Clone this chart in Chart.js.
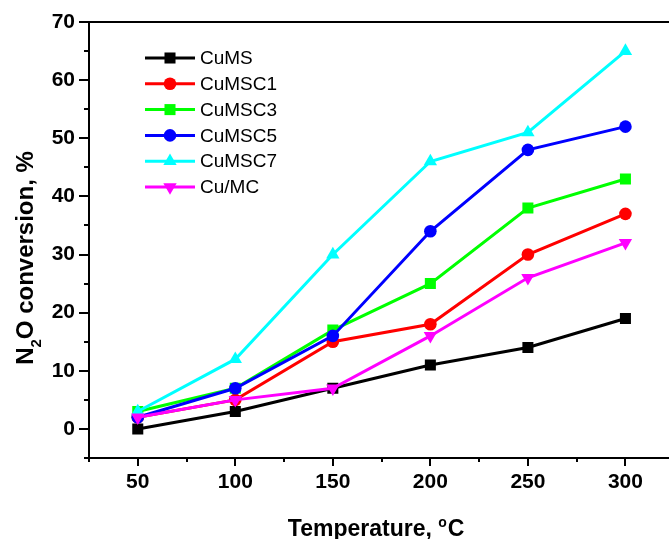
<!DOCTYPE html>
<html>
<head>
<meta charset="utf-8">
<title>N2O conversion vs temperature</title>
<script src="https://cdn.jsdelivr.net/npm/chart.js@4/dist/chart.umd.min.js"></script>
<style>
  html, body { margin: 0; padding: 0; overflow: hidden; background: #ffffff; }
  canvas { display: block; }
</style>
</head>
<body>
<canvas id="chart" width="682" height="539" style="width:682px;height:539px"></canvas>
<script>
// Reaction temperatures (°C)
const temperatures = [50, 100, 150, 200, 250, 300];

// N2O conversion (%) for each catalyst
const cuMS   = [0, 3, 7, 11, 14, 19];
const cuMSC1 = [2, 5, 15, 18, 30, 37];
const cuMSC3 = [3, 7, 17, 25, 38, 43];
const cuMSC5 = [2, 7, 16, 34, 48, 52];
const cuMSC7 = [3, 12, 30, 46, 51, 65];
const cuMC   = [2, 5, 7, 16, 26, 32];

const seriesNames = ['CuMS', 'CuMSC1', 'CuMSC3', 'CuMSC5', 'CuMSC7', 'Cu/MC'];

// Labelled (major) tick values
const xTickValues = [50, 100, 150, 200, 250, 300];
const yTickValues = [0, 10, 20, 30, 40, 50, 60, 70];

const FONT = "'Liberation Sans', Arial, sans-serif";

const seriesStyles = [
  { color: '#000000', pointStyle: 'rect',     radius: 7.8, rotation: 0 },
  { color: '#ff0000', pointStyle: 'circle',   radius: 6.3, rotation: 0 },
  { color: '#00ff00', pointStyle: 'rect',     radius: 7.8, rotation: 0 },
  { color: '#0000ff', pointStyle: 'circle',   radius: 6.3, rotation: 0 },
  { color: '#00ffff', pointStyle: 'triangle', radius: 7.7, rotation: 0 },
  { color: '#ff00ff', pointStyle: 'triangle', radius: 7.7, rotation: 180 }
];

const seriesValues = [cuMS, cuMSC1, cuMSC3, cuMSC5, cuMSC7, cuMC];

const datasets = seriesValues.map((vals, i) => {
  const s = seriesStyles[i];
  return {
    label: seriesNames[i],
    data: temperatures.map((t, k) => ({ x: t, y: vals[k] })),
    borderColor: s.color,
    backgroundColor: s.color,
    borderWidth: 3,
    tension: 0,
    pointStyle: s.pointStyle,
    pointRadius: s.radius,
    pointRotation: s.rotation,
    pointBackgroundColor: s.color,
    pointBorderColor: s.color,
    pointBorderWidth: 0,
    order: seriesValues.length - i   // later series are painted on top
  };
});

// Axis box top edge, outward tick marks, inset legend and axis titles
const decorations = {
  id: 'decorations',
  afterDraw(chart) {
    const { ctx, chartArea: a, scales: { x, y } } = chart;
    ctx.save();

    // top frame line
    ctx.strokeStyle = '#000';
    ctx.lineWidth = 2;
    ctx.beginPath();
    ctx.moveTo(a.left - 1, a.top);
    ctx.lineTo(a.right, a.top);
    ctx.stroke();

    // tick marks
    ctx.lineWidth = 2;
    x.ticks.forEach(t => {
      const px = Math.round(x.getPixelForValue(t.value));
      const len = xTickValues.includes(t.value) ? 8 : 4;
      ctx.beginPath();
      ctx.moveTo(px, a.bottom);
      ctx.lineTo(px, a.bottom + len);
      ctx.stroke();
    });
    y.ticks.forEach(t => {
      const py = Math.round(y.getPixelForValue(t.value));
      const len = yTickValues.includes(t.value) ? 10 : 5;
      ctx.beginPath();
      ctx.moveTo(a.left, py);
      ctx.lineTo(a.left - len, py);
      ctx.stroke();
    });

    // legend
    const lx0 = a.left + 56, lx1 = a.left + 106, ltx = a.left + 111;
    const ly0 = a.top + 36, lstep = 25.8;
    ctx.font = '19px ' + FONT;
    ctx.textBaseline = 'middle';
    ctx.textAlign = 'left';
    chart.data.datasets.forEach((ds, i) => {
      const yy = ly0 + i * lstep;
      ctx.strokeStyle = ds.borderColor;
      ctx.lineWidth = 3;
      ctx.beginPath();
      ctx.moveTo(lx0, yy);
      ctx.lineTo(lx1, yy);
      ctx.stroke();
      ctx.fillStyle = ds.borderColor;
      Chart.helpers.drawPoint(ctx, {
        pointStyle: ds.pointStyle,
        radius: ds.pointRadius,
        rotation: ds.pointRotation,
        borderWidth: 0
      }, (lx0 + lx1) / 2, yy);
      ctx.fillStyle = '#000';
      ctx.fillText(ds.label, ltx, yy + 1);
    });

    // x axis title with superscript degree mark
    ctx.fillStyle = '#000';
    ctx.textBaseline = 'alphabetic';
    const mainX = 'bold 23px ' + FONT, supX = 'bold 14px ' + FONT;
    ctx.font = mainX; const w1 = ctx.measureText('Temperature, ').width;
    ctx.font = supX;  const w2 = ctx.measureText('o').width;
    ctx.font = mainX; const w3 = ctx.measureText('C').width;
    let tx = (a.left + a.right) / 2 - 6 - (w1 + w2 + w3) / 2;
    const ty = 536;
    ctx.font = mainX; ctx.fillText('Temperature, ', tx, ty); tx += w1;
    ctx.font = supX;  ctx.fillText('o', tx, ty - 9); tx += w2 + 1;
    ctx.font = mainX; ctx.fillText('C', tx, ty);

    // y axis title with subscript 2
    const mainY = 'bold 24px ' + FONT, subY = 'bold 15px ' + FONT;
    ctx.font = mainY; const n1 = ctx.measureText('N').width;
    ctx.font = subY;  const n2 = ctx.measureText('2').width;
    ctx.font = mainY; const n3 = ctx.measureText('O conversion, %').width;
    ctx.translate(33, 258);
    ctx.rotate(-Math.PI / 2);
    let sx = -(n1 + n2 + n3) / 2;
    ctx.font = mainY; ctx.fillText('N', sx, 0); sx += n1;
    ctx.font = subY;  ctx.fillText('2', sx, 8); sx += n2;
    ctx.font = mainY; ctx.fillText('O conversion, %', sx, 0);

    ctx.restore();
  }
};

new Chart(document.getElementById('chart'), {
  type: 'line',
  data: { datasets },
  options: {
    responsive: false,
    animation: false,
    layout: { padding: { top: 22, right: 0, bottom: 0, left: 0 } },
    plugins: { legend: { display: false }, tooltip: { enabled: false } },
    scales: {
      x: {
        type: 'linear',
        min: 25,
        max: 325,
        afterFit(scale) { scale.height = 81; },
        ticks: {
          stepSize: 25,
          autoSkip: false,
          maxRotation: 0,
          padding: 4,
          color: '#000',
          font: { family: FONT, size: 21, weight: 'bold' },
          callback: v => (xTickValues.includes(v) ? String(v) : '')
        },
        grid: { display: true, drawOnChartArea: false, drawTicks: true, tickLength: 8, color: 'transparent' },
        border: { display: true, color: '#000', width: 2 }
      },
      y: {
        type: 'linear',
        min: -5,
        max: 70,
        afterFit(scale) { scale.width = 89; },
        ticks: {
          stepSize: 5,
          autoSkip: false,
          padding: 4,
          color: '#000',
          font: { family: FONT, size: 21, weight: 'bold' },
          callback: v => (yTickValues.includes(v) ? String(v) : '')
        },
        grid: { display: true, drawOnChartArea: false, drawTicks: true, tickLength: 10, color: 'transparent' },
        border: { display: true, color: '#000', width: 2 }
      }
    }
  },
  plugins: [decorations]
});
</script>
</body>
</html>
